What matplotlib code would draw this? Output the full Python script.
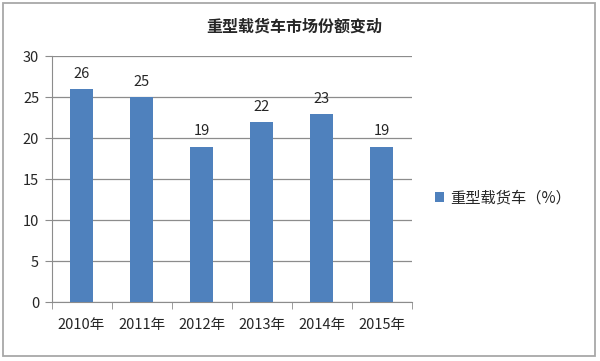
import matplotlib
matplotlib.use("Agg")
import matplotlib.pyplot as plt
from matplotlib.patches import Rectangle

years = ['2010年', '2011年', '2012年', '2013年', '2014年', '2015年']
share = [26, 25, 19, 22, 23, 19]
series_name = '重型载货车（%）'
title = '重型载货车市场份额变动'

plt.rcParams['font.family'] = ['Noto Sans CJK SC', 'DejaVu Sans']
txt_color = '#262626'

fig = plt.figure(figsize=(6, 3.61), dpi=100)
# outer frame of the chart area
fig.patches.append(Rectangle((0.0055, 0.014), 0.986, 0.977, transform=fig.transFigure,
                             fill=False, edgecolor='#a8a8a8', linewidth=1.3))

ax = fig.add_axes([0.086, 0.1626, 0.6, 0.681])
x = range(len(years))
bars = ax.bar(x, share, width=0.38, color='#4f81bd', zorder=3, label=series_name)
for xi, v in zip(x, share):
    ax.text(xi, v + 1.85, str(v), ha='center', va='center', fontsize=10.5,
            fontweight='medium', color=txt_color)

ax.set_xlim(-0.5, len(years) - 0.5)
ax.set_ylim(0, 30)
ax.set_yticks(range(0, 31, 5))
ax.yaxis.grid(True, color='#8c8c8c', linewidth=0.9, zorder=0)
ax.set_xticks(x)
ax.set_xticklabels(years, fontsize=10.5, fontweight='medium', color=txt_color)
ax.set_xticks([i - 0.5 for i in range(len(years) + 1)], minor=True)
ax.tick_params(axis='x', which='major', length=0, pad=11)
ax.tick_params(axis='x', which='minor', length=5, color='#8c8c8c')
ax.tick_params(axis='y', length=5, color='#8c8c8c', labelsize=10.5, pad=4,
               labelcolor=txt_color)
for lab in ax.get_yticklabels():
    lab.set_fontweight('medium')
for s in ['top', 'right']:
    ax.spines[s].set_visible(False)
for s in ['left', 'bottom']:
    ax.spines[s].set_color('#8c8c8c')

fig.text(0.49, 0.926, title, ha='center', va='center', fontsize=11.5,
         fontweight='bold', color=txt_color)
leg = fig.legend(handles=[bars], labels=[series_name], loc='center left',
                 bbox_to_anchor=(0.702, 0.451), frameon=False,
                 prop={'size': 11, 'weight': 'medium'},
                 handlelength=0.6, handleheight=0.6, handletextpad=0.4)
for t in leg.get_texts():
    t.set_color(txt_color)

fig.savefig('out.png', dpi=100)
